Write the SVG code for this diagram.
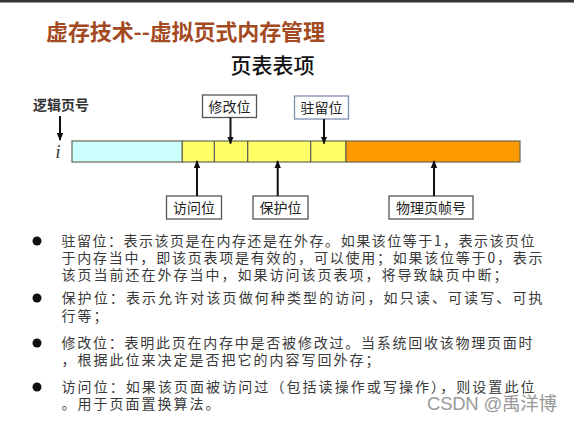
<svg xmlns="http://www.w3.org/2000/svg" width="574" height="423" viewBox="0 0 574 423">
<defs>
<style>
.cjk{font-family:"Noto Sans CJK SC","Noto Sans",sans-serif}
.title{font-size:22px;font-weight:700;fill:#A34A22}
.sub{font-size:21px;font-weight:500;fill:#111}
.lbl{font-size:14px;fill:#222}
.box{fill:#fff;stroke:#555;stroke-width:1.3}
.body{font-size:14px;fill:#3a3a3a}
.arr{stroke:#111;stroke-width:2;fill:none;marker-end:url(#ah)}
.seg{stroke:#666650;stroke-width:1.2}
.div{stroke:#555;stroke-width:1.2}
</style>
<marker id="ah" markerUnits="userSpaceOnUse" markerWidth="8" markerHeight="8" viewBox="0 0 8 8" refX="7" refY="4" orient="auto">
<path d="M0,0.8 L8,4 L0,7.2 Z" fill="#111"/>
</marker>
</defs>
<rect x="0" y="0" width="574" height="423" fill="#fff"/>
<rect x="0" y="0" width="574" height="2.5" fill="#333"/>
<text class="cjk title" x="46" y="39.6" textLength="279" lengthAdjust="spacing">虚存技术--虚拟页式内存管理</text>
<text class="cjk sub" x="272.5" y="72.5" text-anchor="middle">页表表项</text>

<g id="logical">
<text class="cjk" x="61" y="110.3" text-anchor="middle" font-size="14" font-weight="700" fill="#333">逻辑页号</text>
<text x="58" y="158" text-anchor="middle" font-family="Liberation Serif,serif" font-style="italic" font-size="18" fill="#333">i</text>
</g>

<g id="entry">
<rect class="seg" x="72" y="141" width="110.3" height="21" fill="#CCFFFF"/>
<rect class="seg" x="182.3" y="141" width="163.7" height="21" fill="#FFFF66"/>
<rect class="seg" x="346" y="141" width="174" height="21" fill="#FF9900"/>
<line class="div" x1="214.3" y1="141" x2="214.3" y2="162"/>
<line class="div" x1="247.7" y1="141" x2="247.7" y2="162"/>
<line class="div" x1="310.7" y1="141" x2="310.7" y2="162"/>
</g>

<g id="modify">
<rect class="box" x="202.5" y="95" width="54" height="22.5"/>
<text class="cjk lbl" x="229.5" y="111.5" text-anchor="middle">修改位</text>
</g>
<g id="resident">
<rect class="box" x="294.5" y="96" width="54" height="23" style="stroke:#8090B0"/>
<text class="cjk lbl" x="321.5" y="112.8" text-anchor="middle">驻留位</text>
</g>
<g id="access">
<rect class="box" x="166.5" y="196" width="55" height="23"/>
<text class="cjk lbl" x="194" y="212.8" text-anchor="middle">访问位</text>
</g>
<g id="protect">
<rect class="box" x="253" y="196" width="55" height="23"/>
<text class="cjk lbl" x="280.5" y="212.8" text-anchor="middle">保护位</text>
</g>
<g id="frame">
<rect class="box" x="389" y="196" width="84" height="23"/>
<text class="cjk lbl" x="431" y="212.8" text-anchor="middle">物理页帧号</text>
</g>

<g id="connectors">
<line class="arr" x1="60" y1="116" x2="60" y2="140"/>
<line class="arr" x1="230.5" y1="117.5" x2="230.5" y2="143.5"/>
<line class="arr" x1="324" y1="119" x2="324" y2="143.5"/>
<line class="arr" x1="197" y1="196" x2="197" y2="161"/>
<line class="arr" x1="277.7" y1="196" x2="277.7" y2="161"/>
<line class="arr" x1="434" y1="196" x2="434" y2="161"/>
</g>

<g id="notes">
<circle cx="37" cy="241" r="4.5" fill="#111"/>
<circle cx="37" cy="298" r="4.5" fill="#111"/>
<circle cx="37" cy="343" r="4.5" fill="#111"/>
<circle cx="37" cy="387" r="4.5" fill="#111"/>
<text class="cjk body" x="61.5" y="246.3" textLength="473" lengthAdjust="spacing">驻留位：表示该页是在内存还是在外存。如果该位等于1，表示该页位</text>
<text class="cjk body" x="61.5" y="263.3" textLength="481" lengthAdjust="spacing">于内存当中，即该页表项是有效的，可以使用；如果该位等于0，表示</text>
<text class="cjk body" x="61.5" y="280.3" letter-spacing="2">该页当前还在外存当中，如果访问该页表项，将导致缺页中断；</text>
<text class="cjk body" x="61.5" y="303.3" textLength="481" lengthAdjust="spacing">保护位：表示允许对该页做何种类型的访问，如只读、可读写、可执</text>
<text class="cjk body" x="61.5" y="321.3" letter-spacing="2">行等；</text>
<text class="cjk body" x="61.5" y="348.3" textLength="471" lengthAdjust="spacing">修改位：表明此页在内存中是否被修改过。当系统回收该物理页面时</text>
<text class="cjk body" x="61.5" y="365.3" letter-spacing="2">，根据此位来决定是否把它的内容写回外存；</text>
<text class="cjk body" x="61.5" y="392.3" textLength="473" lengthAdjust="spacing">访问位：如果该页面被访问过（包括读操作或写操作），则设置此位</text>
<text class="cjk body" x="61.5" y="409.3" letter-spacing="2">。用于页面置换算法。</text>
</g>
<text x="427" y="410" font-family="Liberation Sans,'Noto Sans CJK SC',sans-serif" font-size="18.5" fill="#999" textLength="130" lengthAdjust="spacing">CSDN @禹洋博</text>
</svg>
